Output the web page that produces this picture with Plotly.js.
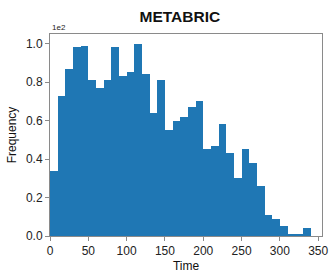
<!DOCTYPE html>
<html>
<head>
<meta charset="utf-8">
<script src="https://cdn.plot.ly/plotly-3.0.1.min.js"></script>
<style>html,body{margin:0;padding:0;background:#fff;}#chart{width:330px;height:277px;}</style>
</head>
<body>
<div id="chart"></div>
<script>
// Histogram of METABRIC survival times, bin width 10
const binStarts = [0,10,20,30,40,50,60,70,80,90,100,110,120,130,140,150,160,170,180,190,200,210,220,230,240,250,260,270,280,290,300,310,320,330];
const binWidth = 10;
const counts = [34,73,87,98,99,81,77,81,98,83,85,100,84,64,81,55,60,62,67,70,45,47,58,43,30,45,38,26,11,9,5,1,1,4];
const yScale = 100; // offset "1e2"
const yTickVals = [0,0.2,0.4,0.6,0.8,1.0];
const yTickText = ['0.0','0.2','0.4','0.6','0.8','1.0'];
const xTickVals = [0,50,100,150,200,250,300,350];

const trace = {
  type: 'bar',
  x: binStarts.map(s => s + binWidth/2),
  y: counts.map(c => c / yScale),
  width: binWidth,
  marker: {color: '#1f77b4', line: {width: 0}},
  hoverinfo: 'x+y'
};

const axisCommon = {
  showgrid: false,
  zeroline: false,
  showline: true,
  mirror: true,
  linecolor: '#8a8a8a',
  linewidth: 1,
  ticks: 'outside',
  ticklen: 4,
  tickwidth: 1,
  tickcolor: '#8a8a8a',
  tickfont: {family: 'Liberation Sans, Arial, sans-serif', size: 12, color: '#222'}
};

const layout = {
  width: 330, height: 277,
  margin: {l: 50, r: 8, t: 34, b: 41},
  paper_bgcolor: '#fff', plot_bgcolor: '#fff',
  bargap: 0,
  showlegend: false,
  title: {text: '<b>METABRIC</b>', x: 0.545, xanchor: 'center', y: 0.94, yanchor: 'middle',
          font: {family: 'Liberation Sans, Arial, sans-serif', size: 15.5, color: '#111'}},
  xaxis: Object.assign({}, axisCommon, {
    range: [0, 355], tickvals: xTickVals,
    title: {text: 'Time', standoff: 4, font: {family: 'Liberation Sans, Arial, sans-serif', size: 12, color: '#111'}}
  }),
  yaxis: Object.assign({}, axisCommon, {
    range: [0, 1.05], tickvals: yTickVals, ticktext: yTickText,
    title: {text: 'Frequency', standoff: 6, font: {family: 'Liberation Sans, Arial, sans-serif', size: 12, color: '#111'}}
  }),
  annotations: [{
    text: '1e' + Math.log10(yScale), xref: 'paper', yref: 'paper', x: 0, y: 1, xanchor: 'left', yanchor: 'bottom',
    showarrow: false, font: {family: 'Liberation Sans, Arial, sans-serif', size: 8, color: '#222'}, yshift: 0
  }]
};

Plotly.newPlot('chart', [trace], layout, {displayModeBar: false, staticPlot: true});
</script>
</body>
</html>
